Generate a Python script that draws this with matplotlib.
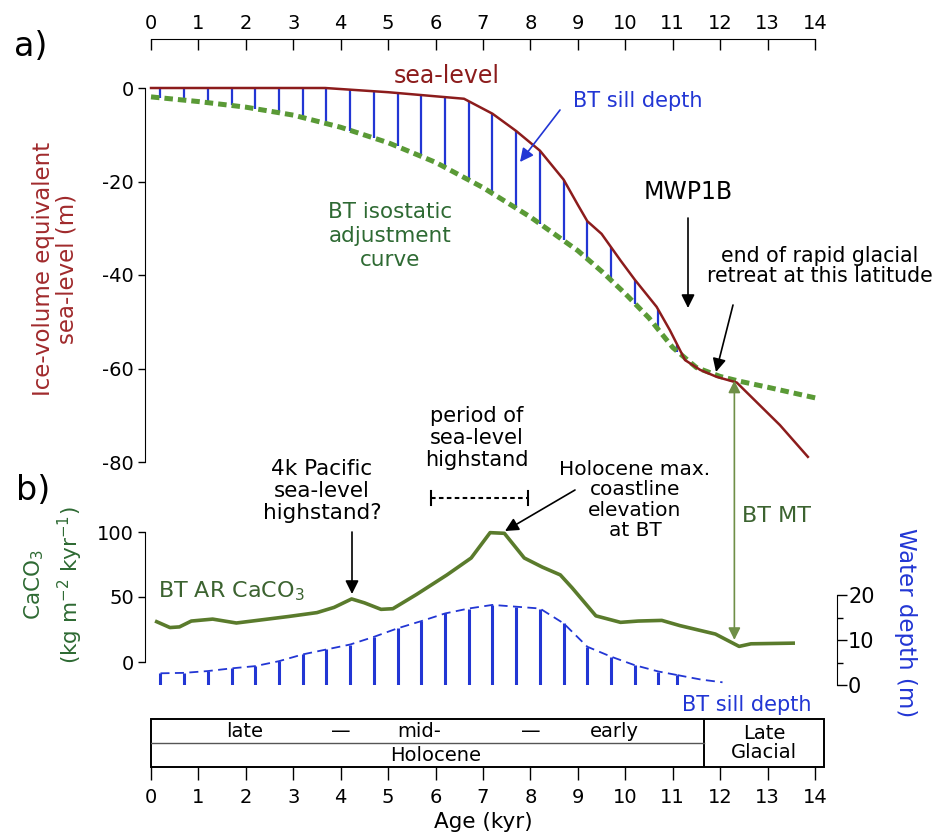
import matplotlib
matplotlib.use('Agg')
import matplotlib.pyplot as plt
from matplotlib.patches import Rectangle
from matplotlib.transforms import blended_transform_factory

plt.rcParams['font.family'] = ['DejaVu Sans']
plt.rcParams['mathtext.fontset'] = 'dejavusans'
plt.rcParams['axes.unicode_minus'] = False

# (a) ice-volume equivalent sea level (m) against age (kyr)
sl_age = [0, 3.67, 5.0, 6.6, 7.2, 7.7, 8.2, 8.7, 9.0, 9.2, 9.5, 9.9, 10.2,
          10.66, 10.94, 11.26, 11.58, 11.93, 12.35, 12.77, 13.26, 13.85]
sl_val = [0, 0, -0.9, -2.3, -5.5, -9.2, -13.4, -19.6, -25.0, -28.5, -31.2,
          -36.9, -41.0, -46.8, -51.8, -58.2, -60.3, -61.8, -63.0, -67.2,
          -72.1, -78.9]

# BT isostatic adjustment curve (m)
iso_age = [0, 1, 2, 3, 4, 5, 6, 7, 8, 9, 9.5, 10, 10.5, 11, 11.5, 12, 12.4,
           13, 14.1]
iso_val = [-1.9, -2.9, -4.1, -5.8, -8.4, -11.7, -15.9, -21.3, -27.6, -34.8,
           -39.2, -44.0, -49.2, -55.5, -59.8, -61.7, -62.7, -64.0, -66.5]

# BT sill depth: sea level (top) minus isostatic level (bottom)
sill_age = [0.2, 0.7, 1.2, 1.7, 2.2, 2.7, 3.2, 3.7, 4.2, 4.7, 5.2, 5.7, 6.2,
            6.7, 7.2, 7.7, 8.2, 8.7, 9.2, 9.7, 10.2, 10.7, 11.1]
sill_top = [0, 0, 0, 0, 0, 0, 0, 0, -0.4, -0.7, -1.1, -1.5, -1.95, -2.8,
            -5.5, -9.2, -13.4, -19.6, -28.5, -34.1, -41.0, -47.5, -55.0]
sill_bot = [-2.1, -2.6, -3.1, -3.7, -4.4, -5.3, -6.3, -7.6, -9.1, -10.7,
            -12.5, -14.6, -17.0, -19.7, -22.6, -25.7, -29.0, -32.6, -36.6,
            -41.1, -46.1, -51.7, -56.4]

# (b) BT AR CaCO3 accumulation (kg m-2 kyr-1)
ca_age = [0.12, 0.4, 0.6, 0.85, 1.3, 1.8, 2.35, 2.9, 3.5, 3.86, 4.23, 4.5,
          4.85, 5.1, 5.6, 6.24, 6.75, 7.15, 7.45, 7.87, 8.25, 8.63, 8.88,
          9.38, 9.9, 10.27, 10.77, 11.15, 11.9, 12.4, 12.65, 13.54]
ca_val = [31, 26.5, 27, 31.5, 33, 30, 32.5, 35, 38, 42, 48.5, 45.5, 40.5,
          41, 52, 67, 80, 99.5, 99, 80, 73, 67, 57, 35.5, 30.5, 31.5, 32,
          28, 21.5, 12, 14, 14.5]

# water depth over the sill (m), same ages as the sill bars
depth_val = [2.6, 2.7, 3.1, 3.7, 4.2, 5.3, 6.8, 7.9, 9.0, 10.7, 12.6, 14.2,
             15.9, 17.0, 17.8, 17.4, 17.0, 13.7, 8.5, 6.3, 4.4, 3.0, 2.2]
depth_tail_age = [11.1, 11.6, 12.05]
depth_tail_val = [2.2, 1.2, 0.6]

age_ticks = list(range(15))
holocene_end = 11.65
timescale_end = 14.2
highstand = (5.9, 7.95)
mt_age = 12.3

RED = '#8c1c1c'
RED_LABEL = '#a02a2c'
BLUE = '#2236d4'
GREEN_DASH = '#5a9a36'
GREEN_TEXT = '#2e6a33'
OLIVE = '#5a7b2c'
OLIVE_TEXT = '#3c6330'
MT_ARROW = '#6f8f47'

W, H = 935, 832
fig = plt.figure(figsize=(W / 100, H / 100), dpi=100)


def box(x0, y0, x1, y1):
    return [x0 / W, 1 - y1 / H, (x1 - x0) / W, (y1 - y0) / H]


def fp(x, y):
    return (x / W, 1 - y / H)


def px2pt(p):
    return p * 72 / 100


# ---- panel a ----
ax_a = fig.add_axes(box(151, 88, 815, 462))
ax_a.set_xlim(0, 14)
ax_a.set_ylim(-80, 0)
ax_a.vlines(sill_age, sill_bot, sill_top, color=BLUE, lw=1.6, zorder=1)
ax_a.plot(iso_age, iso_val, color=GREEN_DASH, lw=3.6, ls=(0, (1.7, 1.0)),
          clip_on=False, zorder=2)
ax_a.plot(sl_age, sl_val, color=RED, lw=1.8, clip_on=False, zorder=3)
for s in ['right', 'bottom']:
    ax_a.spines[s].set_visible(False)
ax_a.spines['left'].set_position(('outward', px2pt(6)))
ax_a.spines['top'].set_position(('outward', px2pt(49)))
ax_a.xaxis.set_ticks_position('top')
ax_a.set_xticks(age_ticks)
ax_a.tick_params(axis='x', direction='in', length=8, width=1, labelsize=14,
                 pad=4)
ax_a.set_yticks([-80, -60, -40, -20, 0])
ax_a.tick_params(axis='y', direction='out', length=5, width=1, labelsize=14,
                 pad=3)
ax_a.patch.set_visible(False)

# ---- panel b: CaCO3 ----
ax_b = fig.add_axes(box(151, 532, 815, 662))
ax_b.set_xlim(0, 14)
ax_b.set_ylim(0, 100)
ax_b.plot(ca_age, ca_val, color=OLIVE, lw=2.6, clip_on=False, zorder=3)
for s in ['right', 'bottom', 'top']:
    ax_b.spines[s].set_visible(False)
ax_b.spines['left'].set_position(('outward', px2pt(6)))
ax_b.set_xticks([])
ax_b.set_yticks([0, 50, 100])
ax_b.tick_params(axis='y', direction='out', length=5, width=1, labelsize=14,
                 pad=3)
ax_b.patch.set_visible(False)

# ---- panel b: water depth ----
ax_d = fig.add_axes(box(151, 595, 815, 685))
ax_d.set_xlim(0, 14)
ax_d.set_ylim(0, 20)
ax_d.vlines(sill_age, 0, depth_val, color=BLUE, lw=2.2)
ax_d.plot(sill_age, depth_val, color=BLUE, lw=1.3, ls=(0, (5, 3)),
          clip_on=False)
ax_d.plot(depth_tail_age, depth_tail_val, color=BLUE, lw=1.3,
          ls=(0, (5, 3)), clip_on=False)
for s in ['left', 'bottom', 'top']:
    ax_d.spines[s].set_visible(False)
ax_d.spines['right'].set_position(('outward', px2pt(22)))
ax_d.set_xticks([])
ax_d.yaxis.set_ticks_position('right')
ax_d.set_yticks([0, 10, 20])
ax_d.set_yticks([5, 15], minor=True)
ax_d.tick_params(axis='y', which='major', direction='out', length=7,
                 width=1, labelsize=15, pad=1)
ax_d.tick_params(axis='y', which='minor', direction='out', length=4,
                 width=1)
ax_d.patch.set_visible(False)

# ---- timescale ----
ax_t = fig.add_axes(box(151, 719, 815, 767))
ax_t.set_xlim(0, 14)
ax_t.set_ylim(0, 1)
ax_t.add_patch(Rectangle((0, 0), timescale_end, 1, fill=False, lw=1.4,
                         ec='k', clip_on=False))
ax_t.plot([holocene_end, holocene_end], [0, 1], color='k', lw=1.4)
ax_t.plot([0, holocene_end], [0.5, 0.5], color='#555555', lw=1.0)
for s in ax_t.spines.values():
    s.set_visible(False)
ax_t.set_yticks([])
ax_t.set_xticks(age_ticks)
ax_t.tick_params(axis='x', direction='out', length=9, width=1, labelsize=14,
                 pad=6)
ax_t.set_xlabel('Age (kyr)', fontsize=15.5, labelpad=4)
tkw = dict(ha='center', va='center', fontsize=14)
ax_t.text(1.97, 0.74, 'late', **tkw)
ax_t.text(4.0, 0.74, '—', **tkw)
ax_t.text(5.66, 0.74, 'mid-', **tkw)
ax_t.text(8.0, 0.74, '—', **tkw)
ax_t.text(9.76, 0.74, 'early', **tkw)
ax_t.text(6.0, 0.24, 'Holocene', **tkw)
ax_t.text((holocene_end + timescale_end) / 2, 0.5, 'Late\nGlacial',
          linespacing=1.0, **tkw)

# ---- labels ----
fig.text(*fp(31, 47), 'a)', fontsize=24, ha='center', va='center')
fig.text(*fp(33, 490), 'b)', fontsize=24, ha='center', va='center')
fig.text(*fp(55, 269), 'Ice-volume equivalent\nsea-level (m)', rotation=90,
         color=RED_LABEL, fontsize=16.5, ha='center', va='center',
         linespacing=1.0)
fig.text(*fp(34, 585), 'CaCO$_3$', rotation=90, color=GREEN_TEXT,
         fontsize=15.5, ha='center', va='center')
fig.text(*fp(70, 585), '(kg m$^{-2}$ kyr$^{-1}$)', rotation=90,
         color=GREEN_TEXT, fontsize=15.5, ha='center', va='center')
fig.text(*fp(905, 623), 'Water depth (m)', rotation=270, color=BLUE,
         fontsize=16.5, ha='center', va='center')

fig.text(*fp(447, 76), 'sea-level', color=RED, fontsize=17, ha='center',
         va='center')
fig.text(*fp(638, 101), 'BT sill depth', color=BLUE, fontsize=15,
         ha='center', va='center')
fig.text(*fp(390, 236), 'BT isostatic\nadjustment\ncurve', color=GREEN_TEXT,
         fontsize=15.5, ha='center', va='center', linespacing=1.25)
fig.text(*fp(688, 192), 'MWP1B', fontsize=17, ha='center', va='center')
fig.text(*fp(820, 266), 'end of rapid glacial\nretreat at this latitude',
         fontsize=14.8, ha='center', va='center', linespacing=1.0)
fig.text(*fp(776, 516), 'BT MT', color=OLIVE_TEXT, fontsize=16,
         ha='center', va='center')
fig.text(*fp(322, 491), '4k Pacific\nsea-level\nhighstand?', fontsize=15.5,
         ha='center', va='center', linespacing=1.1)
fig.text(*fp(477, 438), 'period of\nsea-level\nhighstand', fontsize=15,
         ha='center', va='center', linespacing=1.1)
fig.text(*fp(635, 500), 'Holocene max.\ncoastline\nelevation\nat BT',
         fontsize=14.5, ha='center', va='center', linespacing=1.08)
fig.text(158, H - 597, 'BT AR CaCO$_3$', transform=None, color=OLIVE_TEXT,
         fontsize=16, ha='left', va='baseline')
fig.text(*fp(747, 705), 'BT sill depth', color=BLUE, fontsize=15,
         ha='center', va='center')

# ---- arrows ----
def arrow(p_from, p_to, color='k', style='-|>', lw=1.2, scale=20):
    ax_a.annotate('', xy=fp(*p_to), xycoords='figure fraction',
                  xytext=fp(*p_from), textcoords='figure fraction',
                  annotation_clip=False,
                  arrowprops=dict(arrowstyle=style, color=color, lw=lw,
                                  mutation_scale=scale, shrinkA=0,
                                  shrinkB=0))


arrow((560, 110), (520, 162), color=BLUE)
arrow((688, 218), (688, 308))
arrow((733, 305), (716, 372))
arrow((352, 532), (352, 594))
arrow((575, 490), (505, 531))

# BT MT: sill-top elevation down to the CaCO3 record
ax_a.annotate('', xy=(mt_age, 17), xycoords=ax_b.transData,
              xytext=(mt_age, -62.6), textcoords=ax_a.transData,
              annotation_clip=False,
              arrowprops=dict(arrowstyle='<|-|>', color=MT_ARROW, lw=1.2,
                              mutation_scale=18, shrinkA=0, shrinkB=0))

# period of sea-level highstand
tr = blended_transform_factory(ax_b.transData, fig.transFigure)
yb = 1 - 498 / H
cap = 7 / H
ax_b.plot(highstand, [yb, yb], transform=tr, color='k', lw=1.5,
          ls=(0, (2.2, 1.6)), clip_on=False)
for xh in highstand:
    ax_b.plot([xh, xh], [yb - cap, yb + cap], transform=tr, color='k',
              lw=1.5, clip_on=False)

fig.savefig('out.png', dpi=100)
